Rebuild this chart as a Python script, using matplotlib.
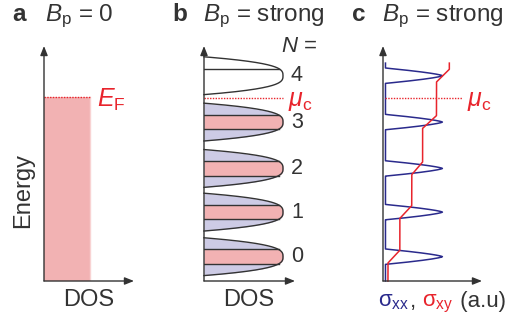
import numpy as np
import matplotlib
matplotlib.use("Agg")
import matplotlib.pyplot as plt
from matplotlib.offsetbox import TextArea, HPacker, AnnotationBbox
import matplotlib.transforms as mtransforms

plt.rcParams['font.family'] = ['Liberation Sans', 'DejaVu Sans']
plt.rcParams['mathtext.fontset'] = 'custom'
plt.rcParams['mathtext.rm'] = 'Liberation Sans'
plt.rcParams['mathtext.it'] = 'Liberation Sans:italic'
plt.rcParams['mathtext.bf'] = 'Liberation Sans:bold'

# Landau levels (energies in units of the level spacing)
level_index = [0, 1, 2, 3, 4]
level_energy = [0.54, 1.53, 2.50, 3.53, 4.56]
level_filled = [True, True, True, True, False]
fermi_energy = 4.09
chem_potential = 4.07
dos_zero_field = 0.51
energy_top = 5.22

# conductivities (a.u.)
sxy_plateaus = [0.05, 0.17, 0.29, 0.40, 0.54, 0.67]
sxx_baseline = 0.025
sxx_peak = 0.60
curve_top = 4.84

PINK = '#F2B2B3'
LAV = '#CDCBE5'
RED = '#E8242C'
BLUE = '#2A2A8C'
DARK = '#333333'
FS = 17
FS_TITLE = 17.5
FS_NUM = 15.5
FS_COND = 16

W, H = 507, 324
fig = plt.figure(figsize=(W / 100, H / 100), dpi=100)


def px_axes(x0, x1, y0=281, y1=46):
    return fig.add_axes([x0 / W, 1 - y0 / H, (x1 - x0) / W, (y0 - y1) / H])


def draw_frame(ax):
    ax.set_axis_off()
    kw = dict(xycoords='axes fraction', textcoords='axes fraction', annotation_clip=False,
              arrowprops=dict(arrowstyle='-|>,head_length=0.55,head_width=0.22',
                              mutation_scale=10, color=DARK, lw=1.0,
                              shrinkA=0, shrinkB=0))
    ax.annotate('', xy=(0, 1), xytext=(0, 0), **kw)
    ax.annotate('', xy=(1, 0), xytext=(0, 0), **kw)


def fig_text(x, y, s, **kw):
    return fig.text(x / W, 1 - y / H, s, **kw)


def yblend(ax):
    return mtransforms.blended_transform_factory(ax.transAxes, ax.transData)


# ---------- a: zero field ----------
axa = px_axes(44, 134)
axa.set_xlim(0, 1)
axa.set_ylim(0, energy_top)
axa.fill_between([0, dos_zero_field], 0, fermi_energy, color=PINK, lw=0)
axa.plot([dos_zero_field] * 2, [0, fermi_energy], color='#F8D3D3', lw=1.0)
axa.plot([0, dos_zero_field], [fermi_energy] * 2, color=RED, lw=1.0, ls=(0, (1, 1)))
draw_frame(axa)
axa.text(0.59, fermi_energy - 0.07, r'$E_\mathrm{F}$', color=RED, fontsize=FS + 1,
         transform=yblend(axa), ha='left', va='center')

# ---------- b: Landau-level DOS ----------
axb = px_axes(204, 295)
axb.set_xlim(0, 1.152)
axb.set_ylim(0, energy_top)

half_width = 0.42


def ll_dos(d):
    return np.clip(1 - (np.abs(d) / half_width) ** 3, 0, None)


band = 0.16
for n, e0, filled in zip(level_index, level_energy, level_filled):
    e = np.linspace(e0 - half_width, e0 + half_width, 400)
    g = ll_dos(e - e0)
    if filled:
        axb.fill_betweenx(e, 0, g, color=LAV, lw=0)
        m = np.abs(e - e0) <= band
        axb.fill_betweenx(e[m], 0, g[m], color=PINK, lw=0)
        for s in (-1, 1):
            axb.plot([0, ll_dos(band)], [e0 + s * band] * 2, color=DARK, lw=1.0)
    else:
        axb.plot([0, ll_dos(band)], [e0 + band] * 2, color=DARK, lw=1.0)
    axb.plot(g, e, color=DARK, lw=1.0, clip_on=False)
    axb.text(0.955, e0, str(n), fontsize=FS_NUM, transform=yblend(axb),
             ha='left', va='center', color=DARK)
axb.plot([0, 1.0], [chem_potential] * 2, color=RED, lw=1.0, ls=(0, (1, 1)))
axb.text(0.92, chem_potential - 0.08, r'$\mu_\mathrm{c}$', color=RED, fontsize=FS + 1,
         transform=yblend(axb), ha='left', va='center')
draw_frame(axb)

# ---------- c: conductivities ----------
axc = px_axes(383, 482)
axc.set_xlim(0, 1)
axc.set_ylim(0, energy_top)
e = np.linspace(0, curve_top, 3000)
sxx = sxx_baseline + sum((sxx_peak - sxx_baseline)
                         * np.clip(1 - (np.abs(e - e0) / 0.17) ** 1.4, 0, None)
                         for e0 in level_energy)
sxy = np.full_like(e, sxy_plateaus[0])
for k, e0 in enumerate(level_energy):
    sxy += (sxy_plateaus[k + 1] - sxy_plateaus[k]) * np.clip((e - e0) / 0.28 + 0.5, 0, 1)
axc.plot(sxx, e, color=BLUE, lw=1.1, clip_on=False)
axc.plot(sxy, e, color=RED, lw=1.1, clip_on=False)
axc.plot([0.02, 0.80], [chem_potential] * 2, color=RED, lw=1.0, ls=(0, (1, 1)))
axc.text(0.85, chem_potential - 0.08, r'$\mu_\mathrm{c}$', color=RED, fontsize=FS + 1,
         transform=yblend(axc), ha='left', va='center')
draw_frame(axc)

# ---------- titles and axis captions ----------
for x_lab, x_t, lab, txt in [(12, 45, 'a', r'$B_\mathrm{p}$ = 0'),
                             (172, 203, 'b', r'$B_\mathrm{p}$ = strong'),
                             (352, 382, 'c', r'$B_\mathrm{p}$ = strong')]:
    fig_text(x_lab, 21, lab, fontsize=FS_TITLE, fontweight='bold', va='baseline', color=DARK)
    fig_text(x_t, 21, txt, fontsize=FS_TITLE, va='baseline', color=DARK)

fig_text(317, 52, r'$N$ =', fontsize=FS_NUM + 0.5, ha='right', va='baseline', color=DARK)
fig_text(23, 190, 'Energy', fontsize=FS, rotation=90, ha='center', va='center', color=DARK)
fig_text(88.5, 306, 'DOS', fontsize=FS, ha='center', va='baseline', color=DARK)
fig_text(249, 306, 'DOS', fontsize=FS, ha='center', va='baseline', color=DARK)

parts = [TextArea(r'$\mathrm{\sigma}_\mathrm{xx}$', textprops=dict(color=BLUE, fontsize=FS_COND)),
         TextArea(', ', textprops=dict(color=DARK, fontsize=FS_COND)),
         TextArea(r'$\mathrm{\sigma}_\mathrm{xy}$', textprops=dict(color=RED, fontsize=FS_COND)),
         TextArea(' (a.u)', textprops=dict(color=DARK, fontsize=FS_COND))]
pack = HPacker(children=parts, align='baseline', pad=0, sep=0)
ab = AnnotationBbox(pack, (442 / W, 1 - 303 / H), xycoords='figure fraction',
                    box_alignment=(0.5, 0.5), frameon=False)
fig.add_artist(ab)

fig.savefig('out.png', dpi=100)
